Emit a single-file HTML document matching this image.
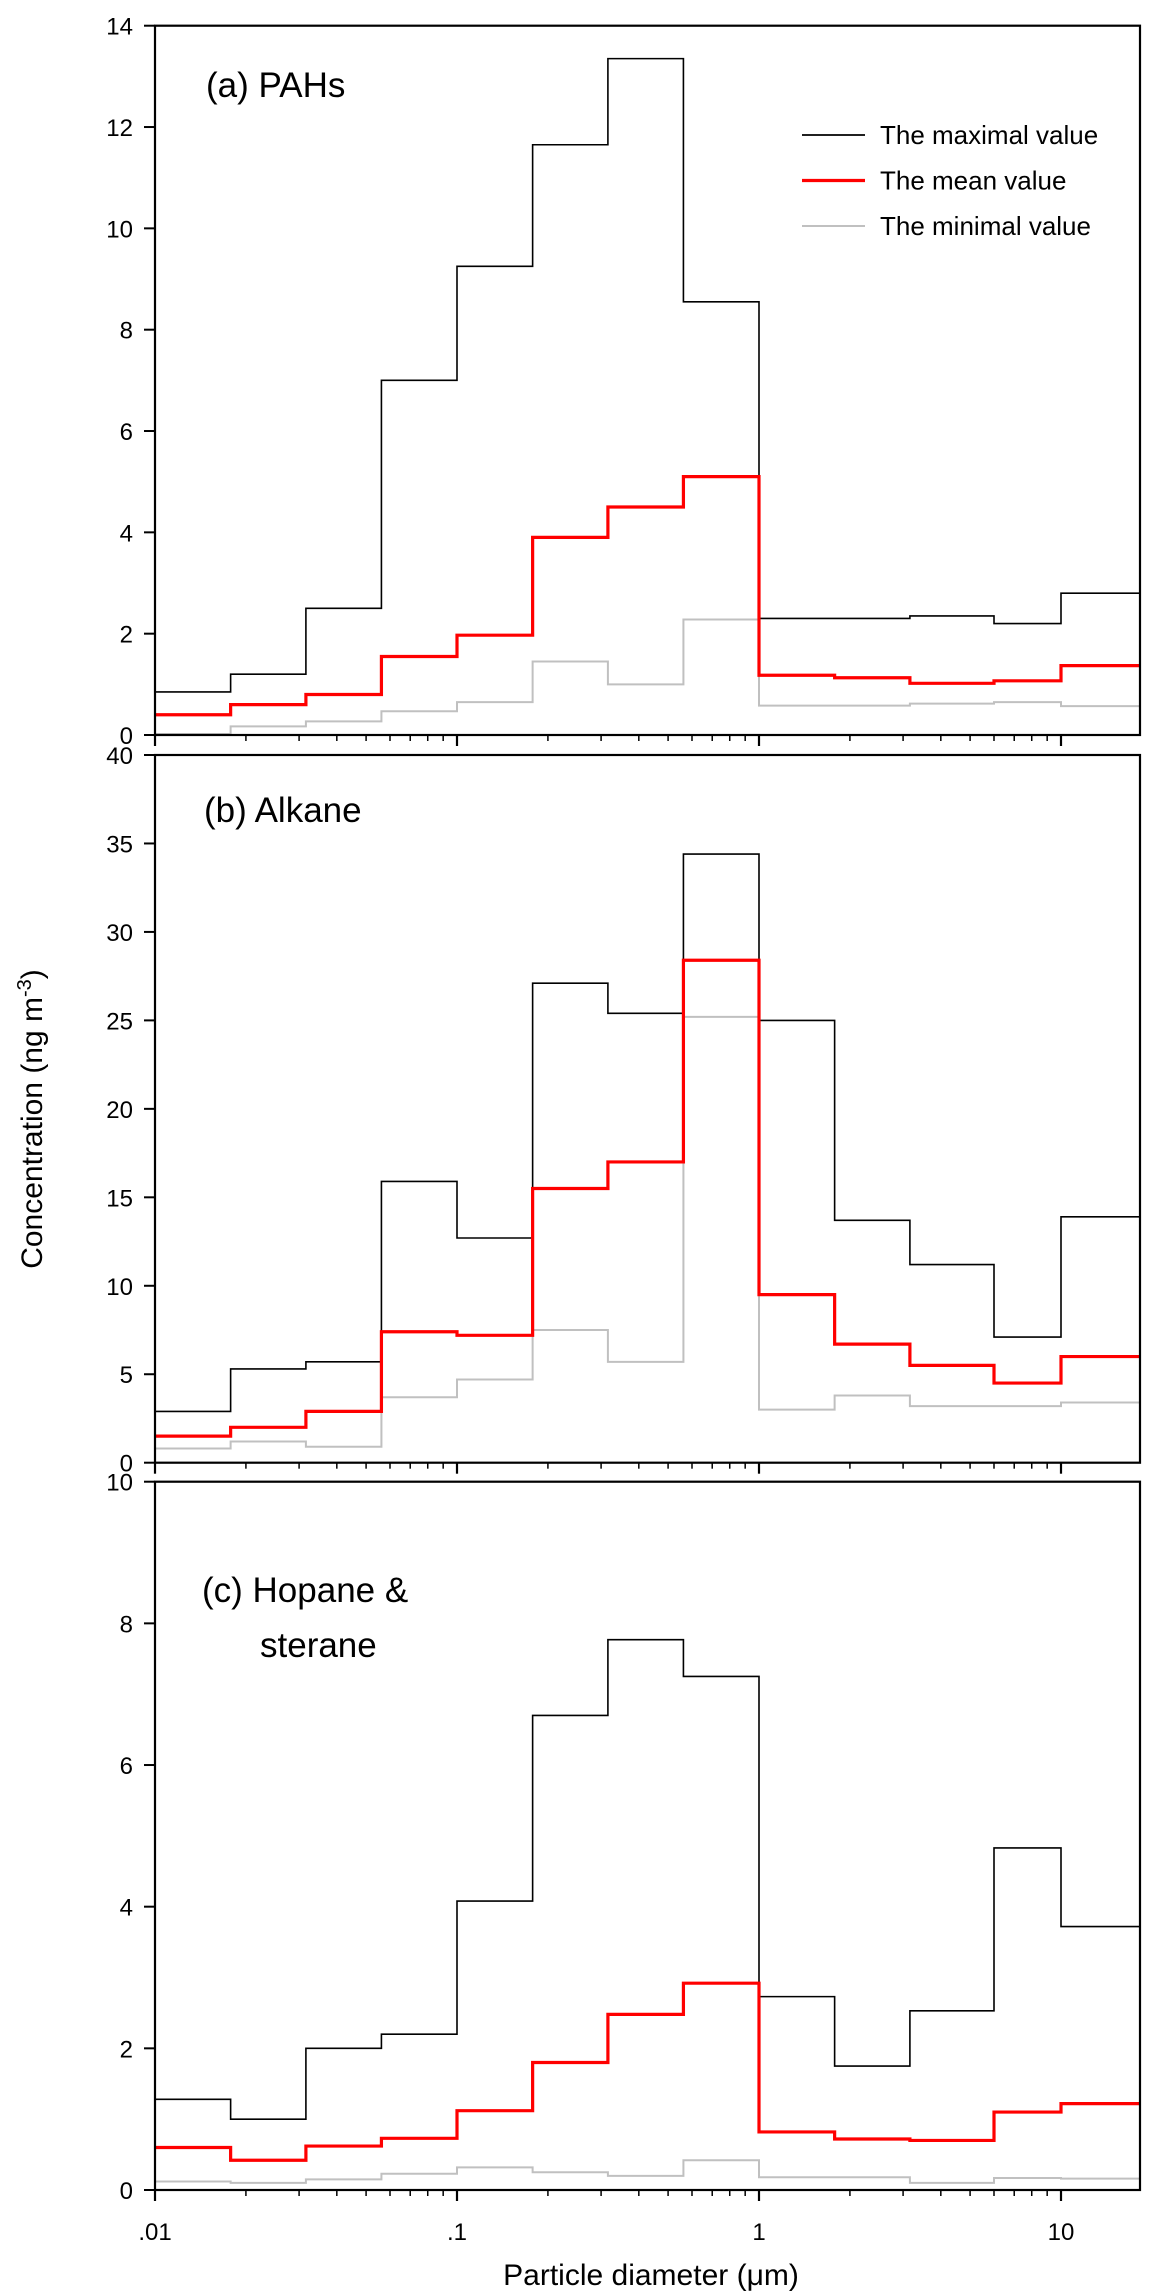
<!DOCTYPE html>
<html><head><meta charset="utf-8"><style>
html,body{margin:0;padding:0;background:#fff;}
svg{display:block;font-family:"Liberation Sans",Arial,sans-serif;}
</style></head><body>
<svg id="chart" width="1166" height="2294" viewBox="0 0 1166 2294" xmlns="http://www.w3.org/2000/svg">
<text transform="translate(42,1119) rotate(-90)" text-anchor="middle" font-size="30">Concentration (ng m<tspan dy="-11" font-size="20">-3</tspan><tspan dy="11">)</tspan></text>
<text x="651" y="2285" text-anchor="middle" font-size="30">Particle diameter (μm)</text>
</svg>
<script>
const binEdges = [0.01,0.0178,0.0316,0.0562,0.1,0.178,0.316,0.562,1,1.78,3.16,6.0,10,18.3];
const pahMax  = [0.85,1.2,2.5,7.0,9.25,11.65,13.35,8.55,2.3,2.3,2.35,2.2,2.8];
const pahMean = [0.4,0.6,0.8,1.55,1.97,3.9,4.5,5.1,1.18,1.13,1.02,1.07,1.37];
const pahMin  = [0.02,0.17,0.27,0.47,0.65,1.45,1.0,2.28,0.58,0.58,0.62,0.65,0.57];
const alkMax  = [2.9,5.3,5.7,15.9,12.7,27.1,25.4,34.4,25.0,13.7,11.2,7.1,13.9];
const alkMean = [1.5,2.0,2.9,7.4,7.2,15.5,17.0,28.4,9.5,6.7,5.5,4.5,6.0];
const alkMin  = [0.8,1.2,0.9,3.7,4.7,7.5,5.7,25.2,3.0,3.8,3.2,3.2,3.4];
const hopMax  = [1.28,1.0,2.0,2.2,4.08,6.7,7.77,7.25,2.73,1.75,2.53,4.83,3.72];
const hopMean = [0.6,0.42,0.62,0.73,1.12,1.8,2.48,2.92,0.82,0.72,0.7,1.1,1.22];
const hopMin  = [0.12,0.1,0.15,0.23,0.32,0.25,0.2,0.42,0.18,0.18,0.1,0.17,0.16];
const pahTicks = [0,2,4,6,8,10,12,14];
const alkTicks = [0,5,10,15,20,25,30,35,40];
const hopTicks = [0,2,4,6,8,10];
const xTickLabels = [".01",".1","1","10"];
const xTickValues = [0.01,0.1,1,10];

const NS = "http://www.w3.org/2000/svg";
const svg = document.getElementById('chart');
const X0 = 155, X1 = 1140, DEC = 302;
function xs(v){ return X0 + (Math.log10(v) - Math.log10(0.01)) * DEC; }
function mk(tag, attrs, parent){ const e = document.createElementNS(NS, tag); for (const k in attrs) e.setAttribute(k, attrs[k]); (parent||svg).appendChild(e); return e; }

function panel(name, top, bottom, ymax, ticks, series, label, showXLabels){
  const g = mk('g', {});
  
  
  const ys = v => bottom - (v / ymax) * (bottom - top);
  series.forEach(s => {
    let d = '';
    s.vals.forEach((v, i) => {
      const xa = xs(binEdges[i]), xb = Math.min(xs(binEdges[i+1]), X1), y = ys(v);
      d += (i === 0 ? 'M' + xa + ',' + y : 'L' + xa + ',' + y) + 'L' + xb + ',' + y;
    });
    const p = mk('path', {d: d, fill: 'none', stroke: s.color, 'stroke-width': s.w}, g);
    
    
  });
  const fr = mk('rect', {x: X0, y: top, width: X1 - X0, height: bottom - top, fill: 'none', stroke: '#000', 'stroke-width': 2.2}, g);
  
  
  ticks.forEach(t => {
    const y = ys(t);
    mk('line', {x1: X0 - 11, x2: X0, y1: y, y2: y, stroke: '#000', 'stroke-width': 2}, g);
    const tx = mk('text', {x: 133, y: y + 9, 'text-anchor': 'end', 'font-size': 24}, g);
    tx.textContent = t;
    
    
  });
  for (let dec = 0.01; dec < 20; dec *= 10) {
    for (let m = 1; m <= 9; m++) {
      const v = dec * m;
      if (v > 18.3) break;
      const x = xs(v);
      mk('line', {x1: x, x2: x, y1: bottom, y2: bottom + (m === 1 ? 11 : 6), stroke: '#000', 'stroke-width': m === 1 ? 2.2 : 1.5}, g);
    }
  }
  if (showXLabels) {
    xTickValues.forEach((v, i) => {
      const tx = mk('text', {x: xs(v), y: 2240, 'text-anchor': 'middle', 'font-size': 24}, g);
      tx.textContent = xTickLabels[i];
      
      
    });
  }
  label.forEach(l => {
    const tx = mk('text', {x: l.x, y: l.y, 'font-size': 35}, g);
    tx.textContent = l.t;
    
    
  });
  return g;
}
function S(a, b, c){ return [
  {name: 'max-series', vals: a, color: '#000', w: 1.6},
  {name: 'min-series', vals: c, color: '#c0c0c0', w: 2},
  {name: 'mean-series', vals: b, color: '#ff0000', w: 3.2}]; }

panel('panel-a-pahs', 25.7, 735, 14, pahTicks, S(pahMax, pahMean, pahMin), [{t: '(a) PAHs', x: 206, y: 97}], false);
panel('panel-b-alkane', 755, 1462.7, 40, alkTicks, S(alkMax, alkMean, alkMin), [{t: '(b) Alkane', x: 204, y: 822}], false);
panel('panel-c-hopane', 1481.7, 2190, 10, hopTicks, S(hopMax, hopMean, hopMin), [{t: '(c) Hopane &', x: 202, y: 1602}, {t: 'sterane', x: 260, y: 1657}], true);

const lg = mk('g', {});


const legendLabels = ['The maximal value', 'The mean value', 'The minimal value'];
const legendColors = ['#000', '#ff0000', '#c0c0c0'];
const legendWidths = [1.8, 3.2, 2];
legendLabels.forEach((t, i) => {
  const y = 135 + i * 45.5;
  mk('line', {x1: 802, x2: 865, y1: y, y2: y, stroke: legendColors[i], 'stroke-width': legendWidths[i]}, lg);
  const tx = mk('text', {x: 880, y: y + 9, 'font-size': 26}, lg);
  tx.textContent = t;
  
  
});
</script>
</body></html>
